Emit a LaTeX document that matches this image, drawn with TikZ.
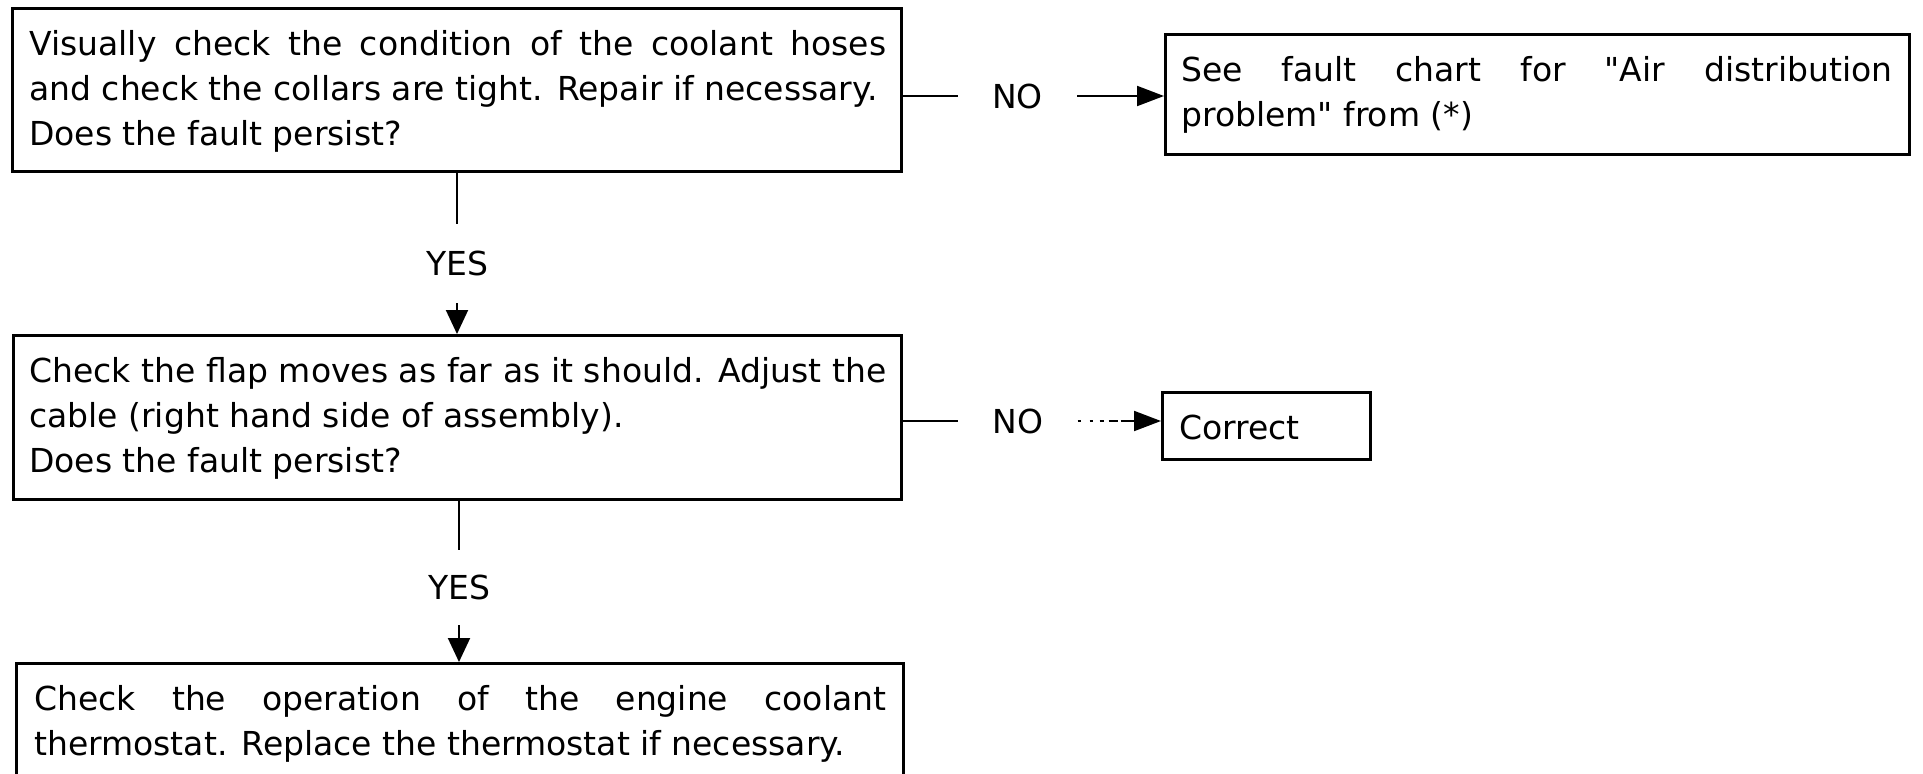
\documentclass[tikz,border=0pt]{standalone}
\usepackage{fontspec}
\setmainfont{DejaVu Sans}[Ligatures=TeXOff]
\usetikzlibrary{arrows.meta}
\newcommand{\bxt}[5]{\parbox[c][#2][t]{#1}{\fontsize{33}{45}\selectfont\setlength{\parindent}{0pt}\setlength{\leftskip}{#3}\setlength{\rightskip}{#4}\tolerance=10000\hyphenpenalty=10000\rule{0pt}{47pt}#5}}
\begin{document}
\begin{tikzpicture}[x=1pt,y=-1pt,
  box/.style={draw, line width=2.6pt, inner sep=0pt, anchor=north west},
  conn/.style={line width=2pt},
  lbl/.style={font=\fontsize{33}{45}\selectfont, text height=24pt, text depth=0pt, inner sep=0pt},
  tipv/.style={-{Triangle[length=24pt,width=22pt]}},
  tiph/.style={-{Triangle[length=27pt,width=20pt]}}]
\useasboundingbox (0,0) rectangle (1923,774);
\clip (0,0) rectangle (1923,774);
\fill[white] (0,0) rectangle (1923,774);

\node[box] (q1) at (11,7) {\bxt{889pt}{163pt}{17pt}{15pt}{Visually check the condition of the coolant hoses\linebreak\mbox{and check the collars are tight. Repair if necessary.}\\Does the fault persist?}};
\node[box] (f1) at (1164,33) {\bxt{744pt}{120pt}{16pt}{17pt}{See fault chart for "Air distribution\linebreak problem" from (*)}};
\node[box] (q2) at (12,334) {\bxt{888pt}{164pt}{16pt}{15pt}{Check the flap moves as far as it should. Adjust the\linebreak\mbox{cable (right hand side of assembly).}\\Does the fault persist?}};
\node[box] (c2) at (1161,391) {\bxt{208pt}{67pt}{17pt}{0pt}{Correct}};
\node[box] (q3) at (15,662) {\bxt{887pt}{123pt}{18pt}{17pt}{Check the operation of the engine coolant\linebreak\mbox{thermostat. Replace the thermostat if necessary.}}};

\node[lbl, inner xsep=34pt] (n1) at (1017.5,96) {NO};
\node[lbl, inner xsep=34pt] (n2) at (1018,421) {NO};
\node[lbl, inner ysep=27.5pt] (n3) at (457,263.5) {YES};
\node[lbl, inner ysep=25.5pt] (n4) at (459,587.5) {YES};

\draw[conn] (n1.west -| q1.east) -- (n1.west);
\draw[conn, tiph] (n1.east) -- (n1.east -| f1.west);
\draw[conn] (n2.west -| q2.east) -- (n2.west);
\draw[conn, tiph, dash pattern=on 3pt off 9pt on 3pt off 7pt on 4pt off 5pt on 9pt off 3pt on 60pt] (n2.east) -- (n2.east -| c2.west);
\draw[conn] (n3.north |- q1.south) -- (n3.north);
\draw[conn, tipv] (n3.south) -- (n3.south |- q2.north);
\draw[conn] (n4.north |- q2.south) -- (n4.north);
\draw[conn, tipv] (n4.south) -- (n4.south |- q3.north);
\end{tikzpicture}
\end{document}
